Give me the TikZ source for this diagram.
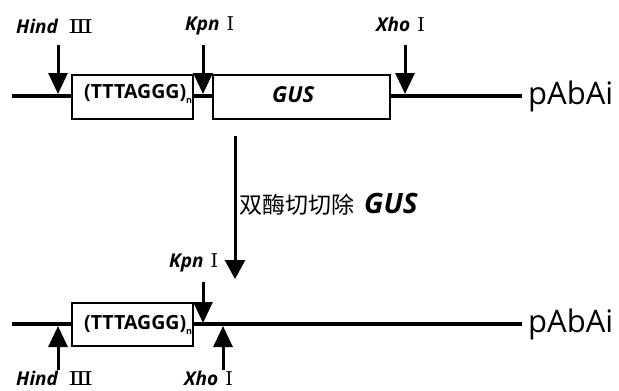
\documentclass[tikz,border=0pt]{standalone}
\usepackage{fontspec}
\usepackage{graphicx}
\setmainfont{Open Sans}
\newfontfamily\cjk{Noto Sans CJK SC}
\newfontfamily\rn{DejaVu Serif}
\usetikzlibrary{arrows.meta}
\newcommand{\rnThree}{{\rn\fontsize{19}{19}\selectfont\scalebox{1.35}[1]{Ⅲ}}}
\newcommand{\rnOne}{{\rn\fontsize{19}{19}\selectfont Ⅰ}}
\begin{document}
\begin{tikzpicture}[x=1pt,y=-1pt,
  dna/.style={line width=4.5pt},
  seg/.style={draw,line width=1.5pt,fill=white,inner sep=0pt,anchor=north west},
  cut/.style={line width=3pt,-{Triangle[width=19pt,length=21pt]}},
  big/.style={line width=3pt,-{Triangle[width=20pt,length=19pt]}},
  enz/.style={inner sep=0pt,anchor=west,font=\fontsize{19}{19}\selectfont},
  seq/.style={inner sep=0pt,anchor=west,font=\bfseries\fontsize{19.5}{19.5}\selectfont},
  plas/.style={inner sep=0pt,anchor=west,font=\fontsize{31}{31}\selectfont}]
\useasboundingbox (0,0) rectangle (619,391);
% ---- top construct
\coordinate (t0) at (12,96);
\coordinate (t1) at (522,96);
\draw[dna] (t0) -- (t1);
\node[seg,minimum width=121pt,minimum height=44pt] (box1) at (71,74) {};
\node[seg,minimum width=177pt,minimum height=44pt] (box2) at (212,74) {};
\node[seq] (s1) at (84,94) {(TTTAGGG)\raisebox{-5pt}{\fontsize{9}{9}\selectfont n}};
\node[inner sep=0pt,anchor=west,font=\bfseries\itshape\fontsize{22}{22}\selectfont] (g1) at (272,95) {GUS};
\node[plas] (p1) at (528,96) {pAbAi};
\node[enz] (h1) at (16,26) {\textbf{\textit{Hind}}\hspace{10pt}\rnThree};
\node[enz] (k1) at (185,26) {\textbf{\textit{Kpn}}\hspace{7pt}\rnOne};
\node[enz] (x1) at (376,24) {\textbf{\textit{Xho}}\hspace{7pt}\rnOne};
\coordinate (ha) at (58,45); \coordinate (hb) at (58,94);
\coordinate (ka) at (203,45); \coordinate (kb) at (203,94);
\coordinate (xa) at (405,45); \coordinate (xb) at (405,94);
\draw[cut] (ha) -- (hb);
\draw[cut] (ka) -- (kb);
\draw[cut] (xa) -- (xb);
% ---- middle arrow
\coordinate (ma) at (235,136);
\coordinate (mb) at (235,279);
\draw[big] (ma) -- (mb);
\node[inner sep=0pt,anchor=west] (lab) at (239,204) {{\cjk\fontsize{23}{23}\selectfont 双酶切切除}\hspace{10pt}{\bfseries\itshape\fontsize{28}{28}\selectfont GUS}};
% ---- bottom construct
\coordinate (b0) at (12,324);
\coordinate (b1) at (522,324);
\draw[dna] (b0) -- (b1);
\node[seg,minimum width=121pt,minimum height=43pt] (box3) at (71,302) {};
\node[seq] (s2) at (84,325) {(TTTAGGG)\raisebox{-5pt}{\fontsize{9}{9}\selectfont n}};
\node[plas] (p2) at (528,324) {pAbAi};
\node[enz] (k2) at (169,263) {\textbf{\textit{Kpn}}\hspace{7pt}\rnOne};
\node[enz] (h2) at (16,378) {\textbf{\textit{Hind}}\hspace{10pt}\rnThree};
\node[enz] (x2) at (184,378) {\textbf{\textit{Xho}}\hspace{7pt}\rnOne};
\coordinate (kc) at (203,282); \coordinate (kd) at (203,323);
\coordinate (hc) at (58,370); \coordinate (hd) at (58,326);
\coordinate (xc) at (223,370); \coordinate (xd) at (223,326);
\draw[cut] (kc) -- (kd);
\draw[cut] (hc) -- (hd);
\draw[cut] (xc) -- (xd);
\end{tikzpicture}
\end{document}
